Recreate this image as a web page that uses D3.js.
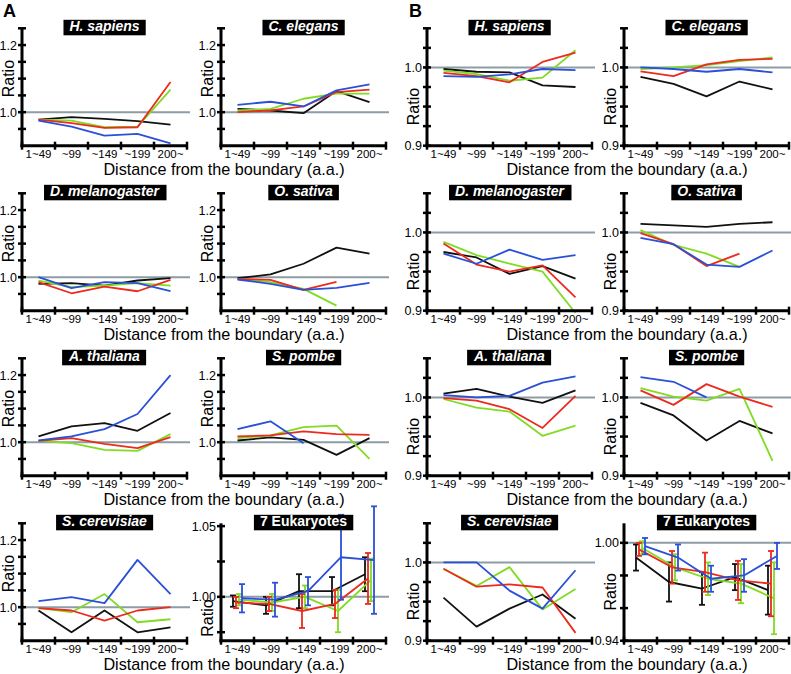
<!DOCTYPE html>
<html><head><meta charset="utf-8">
<script src="https://cdn.jsdelivr.net/npm/d3@7"></script>
<style>body{margin:0;background:#fff}text{font-family:"Liberation Sans",Arial,sans-serif}</style>
</head><body>
<script>
// ---------- DATA ----------
const categories = ["1~49", "~99", "~149", "~199", "200~"];
const seriesOrder = ["black", "green", "red", "blue"];

// Panel A, y from 0.9 to 1.25
const A_Hsapiens = {black:[0.978,0.985,0.980,0.973,0.963], green:[0.978,0.975,0.955,0.957,1.067], red:[0.978,0.967,0.953,0.955,1.090], blue:[0.975,0.957,0.930,0.935,0.907]};
const A_Celegans = {black:[1.010,1.005,0.997,1.063,1.030], green:[1.005,1.010,1.040,1.055,1.055], red:[1.000,1.005,1.017,1.060,1.067], blue:[1.022,1.031,1.017,1.065,1.083]};
const A_Dmelanogaster = {black:[0.980,0.982,0.975,0.990,0.997], green:[0.990,0.970,0.975,0.982,0.975], red:[0.985,0.952,0.972,0.958,0.992], blue:[1.000,0.967,0.985,0.982,0.958]};
const A_Osativa = {black:[0.997,1.008,1.040,1.088,1.070], green:[0.995,0.985,0.965,0.915,null], red:[0.995,0.992,0.962,0.986,null], blue:[0.993,0.980,0.962,0.968,0.983]};
const A_Athaliana = {black:[1.017,1.047,1.057,1.034,1.087], green:[1.004,0.997,0.977,0.974,1.024], red:[1.004,1.012,0.995,0.982,1.015], blue:[1.005,1.017,1.039,1.084,1.200]};
const A_Spombe = {black:[1.005,1.014,1.007,0.962,1.012], green:[1.012,1.020,1.045,1.049,0.950], red:[1.017,1.020,1.032,1.024,1.022], blue:[1.039,1.062,0.997,null,null]};
const A_Scerevisiae = {black:[0.990,0.925,0.990,0.925,0.940], green:[0.997,0.985,1.039,0.955,0.964], red:[0.997,0.990,0.960,0.990,1.000], blue:[1.018,1.030,1.012,1.141,1.039]};
const A_7Euk = {black:[0.997,0.994,1.004,1.004,1.016], green:[0.998,0.996,1.000,0.990,1.012], red:[0.996,0.995,0.990,0.995,1.013], blue:[0.999,0.998,1.004,1.028,1.026]};
const A_7Euk_err = {black:[0.004,0.006,0.012,0.010,0.012], green:[0.004,0.006,0.008,0.015,0.015], red:[0.004,0.005,0.012,0.010,0.018], blue:[0.010,0.012,0.010,0.030,0.038]};

// Panel B, y from 0.9 to 1.05
const B_Hsapiens = {black:[0.998,0.9945,0.9937,0.977,0.975], green:[0.996,0.9916,0.983,0.987,1.022], red:[0.993,0.989,0.981,1.007,1.019], blue:[0.989,0.988,0.991,0.998,0.9966]};
const B_Celegans = {black:[0.988,0.979,0.963,0.982,0.972], green:[0.998,1.000,1.003,1.008,1.0127], red:[0.995,0.989,1.004,1.0097,1.011], blue:[1.000,0.998,0.9945,0.998,0.9937]};
const B_Dmelanogaster = {black:[0.975,0.968,0.947,0.957,0.941], green:[0.988,0.971,0.960,0.950,0.897], red:[0.986,0.959,0.950,0.958,0.917], blue:[0.973,0.960,0.978,0.965,0.971]};
const B_Osativa = {black:[1.011,1.009,1.007,1.011,1.013], green:[1.003,0.984,0.973,0.956,null], red:[0.999,0.985,0.957,0.973,null], blue:[0.993,0.985,0.959,0.956,0.977]};
const B_Athaliana = {black:[1.005,1.011,1.001,0.993,1.009], green:[0.998,0.987,0.982,0.951,0.964], red:[0.999,0.996,0.985,0.961,1.002], blue:[1.003,1.000,1.002,1.019,1.027]};
const B_Spombe = {black:[0.993,0.977,0.945,0.970,0.954], green:[1.012,1.001,0.996,1.011,0.919], red:[1.009,0.9905,1.017,1.001,0.988], blue:[1.026,1.020,1.000,null,null]};
const B_Scerevisiae = {black:[0.955,0.918,0.941,0.959,0.928], green:[0.992,0.970,0.994,0.940,0.966], red:[0.992,0.969,0.972,0.968,0.910], blue:[1.000,1.000,0.964,0.941,0.990]};
const B_7Euk = {black:[0.991,0.976,0.972,0.979,0.971], green:[0.997,0.985,0.978,0.975,0.966], red:[0.996,0.985,0.982,0.977,0.975], blue:[0.998,0.991,0.978,0.980,0.992]};
const B_7Euk_err = {black:[0.008,0.012,0.010,0.008,0.015], green:[0.004,0.008,0.010,0.012,0.022], red:[0.004,0.010,0.012,0.012,0.020], blue:[0.005,0.008,0.008,0.010,0.008]};

const yA = {domain:[0.9,1.25], ticks:[0.95,1.0,1.05,1.1,1.15,1.2,1.25], labels:[[1.0,"1.0"],[1.2,"1.2"]]};
const yB = {domain:[0.9,1.05], ticks:[0.9,0.925,0.95,0.975,1.0,1.025,1.05], labels:[[0.9,"0.9"],[1.0,"1.0"]]};
const yA7 = {domain:[0.969,1.052], ticks:[0.975,1.0,1.025,1.05], labels:[[1.0,"1.00"],[1.05,"1.05"]]};
const yB7 = {domain:[0.94,1.012], ticks:[0.94,0.96,0.98,1.0], labels:[[0.94,"0.94"],[1.0,"1.00"]]};

// ---------- DRAWING ----------
const W = 791, H = 674;
const colors = {black:"#111111", green:"#7fdc22", red:"#ec2a1e", blue:"#2b50d8"};
const svg = d3.select("body").append("svg").attr("width", W).attr("height", H);
const colX = {A:[22, 221], B:[427, 624]};
const plotW = 165;
const rowTop = r => 28.3 + r * 165;
const rowBot = r => 145.7 + r * 165;

const panels = [
  {side:"A", col:0, row:0, title:"H. sapiens", italic:true, data:A_Hsapiens, yc:yA},
  {side:"A", col:1, row:0, title:"C. elegans", italic:true, data:A_Celegans, yc:yA},
  {side:"A", col:0, row:1, title:"D. melanogaster", italic:true, data:A_Dmelanogaster, yc:yA},
  {side:"A", col:1, row:1, title:"O. sativa", italic:true, data:A_Osativa, yc:yA},
  {side:"A", col:0, row:2, title:"A. thaliana", italic:true, data:A_Athaliana, yc:yA},
  {side:"A", col:1, row:2, title:"S. pombe", italic:true, data:A_Spombe, yc:yA},
  {side:"A", col:0, row:3, title:"S. cerevisiae", italic:true, data:A_Scerevisiae, yc:yA},
  {side:"A", col:1, row:3, title:"7 Eukaryotes", italic:false, data:A_7Euk, err:A_7Euk_err, yc:yA7, ratioY:0.985},
  {side:"B", col:0, row:0, title:"H. sapiens", italic:true, data:B_Hsapiens, yc:yB},
  {side:"B", col:1, row:0, title:"C. elegans", italic:true, data:B_Celegans, yc:yB},
  {side:"B", col:0, row:1, title:"D. melanogaster", italic:true, data:B_Dmelanogaster, yc:yB},
  {side:"B", col:1, row:1, title:"O. sativa", italic:true, data:B_Osativa, yc:yB},
  {side:"B", col:0, row:2, title:"A. thaliana", italic:true, data:B_Athaliana, yc:yB},
  {side:"B", col:1, row:2, title:"S. pombe", italic:true, data:B_Spombe, yc:yB},
  {side:"B", col:0, row:3, title:"S. cerevisiae", italic:true, data:B_Scerevisiae, yc:yB},
  {side:"B", col:1, row:3, title:"7 Eukaryotes", italic:false, data:B_7Euk, err:B_7Euk_err, yc:yB7}
];

const dodge = {black:-4.5, red:-1.5, green:1.5, blue:4.5};

panels.forEach(p => {
  const x0 = colX[p.side][p.col], x1 = x0 + plotW;
  const yT = rowTop(p.row), yBt = rowBot(p.row);
  const x = d3.scaleBand().domain(categories).range([x0, x1]);
  const y = d3.scaleLinear().domain(p.yc.domain).range([yBt, yT]);
  const g = svg.append("g");
  const cx = (c, s) => x(c) + x.bandwidth() / 2 + (p.err ? dodge[s] : 0);

  g.append("line").attr("x1", x0 - 4).attr("x2", x1 + 3).attr("y1", y(1)).attr("y2", y(1))
    .attr("stroke", "#8d9da5").attr("stroke-width", 2);

  seriesOrder.forEach(s => {
    const vals = categories.map((c, i) => ({c, v: p.data[s][i], e: p.err ? p.err[s][i] : null}));
    const line = d3.line().defined(d => d.v != null).x(d => cx(d.c, s)).y(d => y(d.v));
    g.append("path").datum(vals).attr("d", line).attr("fill", "none")
      .attr("stroke", colors[s]).attr("stroke-width", 1.8).attr("stroke-linejoin", "round");
    if (p.err) {
      vals.forEach(d => {
        const xx = cx(d.c, s);
        const lo = y(Math.max(d.v - d.e, p.yc.domain[0])), hi = y(d.v + d.e);
        g.append("line").attr("x1", xx).attr("x2", xx).attr("y1", lo).attr("y2", hi)
          .attr("stroke", colors[s]).attr("stroke-width", 1.8);
        [hi, lo].forEach(yy => g.append("line").attr("x1", xx - 3).attr("x2", xx + 3)
          .attr("y1", yy).attr("y2", yy).attr("stroke", colors[s]).attr("stroke-width", 1.8));
      });
    }
  });

  g.append("line").attr("x1", x0).attr("x2", x0).attr("y1", yT).attr("y2", yBt + 1.5)
    .attr("stroke", "#000").attr("stroke-width", 3);
  g.append("line").attr("x1", x0 - 1.5).attr("x2", x1).attr("y1", yBt).attr("y2", yBt)
    .attr("stroke", "#000").attr("stroke-width", 3);
  p.yc.ticks.forEach(t => g.append("line").attr("x1", x0 - 4).attr("x2", x0 + 4)
    .attr("y1", y(t)).attr("y2", y(t)).attr("stroke", "#000").attr("stroke-width", 2.5));
  const bounds = categories.map(c => x(c)).concat([x1]);
  bounds.forEach(b => g.append("line").attr("x1", b).attr("x2", b)
    .attr("y1", yBt - 4).attr("y2", yBt + 4).attr("stroke", "#000").attr("stroke-width", 2.5));

  p.yc.labels.forEach(([v, t]) => g.append("text").attr("x", x0 - 5).attr("y", y(v))
    .attr("dy", "0.36em").attr("text-anchor", "end").attr("font-size", 12.5).text(t));
  categories.forEach(c => g.append("text").attr("x", x(c) + x.bandwidth() / 2).attr("y", yBt + 12.3)
    .attr("text-anchor", "middle").attr("font-size", 11.5).text(c));

  const ratioCenter = p.ratioY != null ? y(p.ratioY) : (y(p.yc.labels[0][0]) + y(p.yc.labels[1][0])) / 2;
  g.append("text").attr("transform", `translate(${x0 - 8.5},${ratioCenter}) rotate(-90)`)
    .attr("text-anchor", "middle").attr("font-size", 16).text("Ratio");

  const tc = x0 + plotW / 2;
  const tt = g.append("text").attr("x", tc).attr("y", yT + 2.5).attr("text-anchor", "middle")
    .attr("font-size", 14).attr("font-weight", "bold").attr("font-style", p.italic ? "italic" : "normal")
    .attr("fill", "#fff").text(p.title);
  const bb = tt.node().getBBox();
  g.insert("rect", () => tt.node()).attr("x", bb.x - 6).attr("y", yT - 8.5).attr("width", bb.width + 12)
    .attr("height", 15.5).attr("fill", "#000");
});

["A", "B"].forEach(side => {
  for (let r = 0; r < 4; r++) {
    svg.append("text").attr("x", colX[side][1] + 3).attr("y", 174.8 + r * 165).attr("text-anchor", "middle")
      .attr("font-size", 16.2).text("Distance from the boundary (a.a.)");
  }
});

svg.append("text").attr("x", 3).attr("y", 16.5).attr("font-size", 18).attr("font-weight", "bold").text("A");
svg.append("text").attr("x", 409).attr("y", 16.5).attr("font-size", 18).attr("font-weight", "bold").text("B");
</script>
</body></html>
